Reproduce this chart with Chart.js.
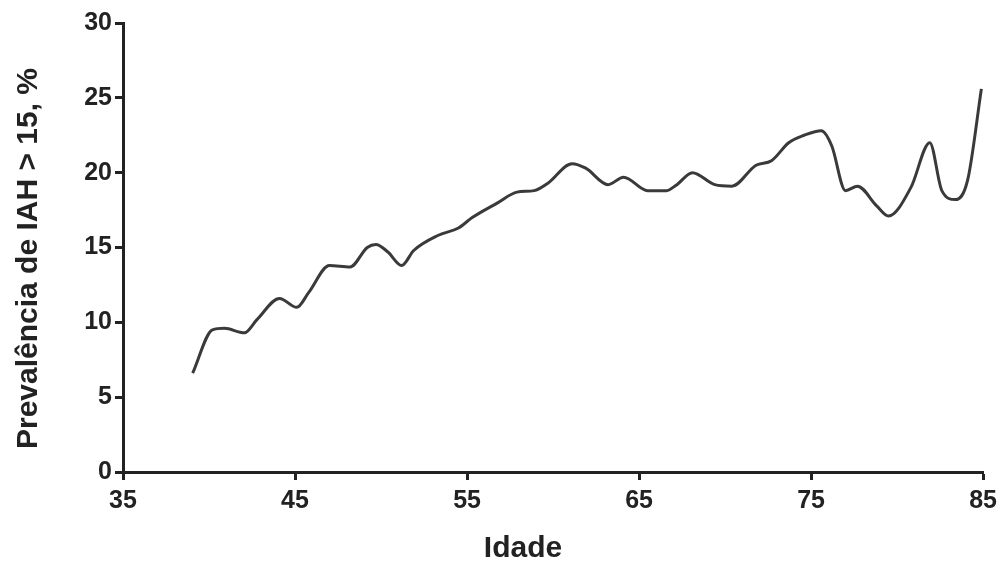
<!DOCTYPE html>
<html>
<head>
<meta charset="utf-8">
<script src="https://cdn.jsdelivr.net/npm/chart.js@4"></script>
<style>
  html, body { margin: 0; padding: 0; background: #fff; }
  #wrap { width: 1003px; height: 563px; }
</style>
</head>
<body>
<div id="wrap"><canvas id="myLine" width="1003" height="563"></canvas></div>
<script>
// age (x) and prevalence of AHI > 15 (y)
const ages = [39.05, 40.2, 40.9, 42.05, 42.8, 44.1, 45.1, 45.8, 47.0, 48.2, 49.2, 49.7, 50.4, 51.2, 51.9,
  53.3, 54.5, 55.3, 56.8, 57.9, 58.9, 59.7, 61.1, 61.9, 63.2, 64.1, 65.5, 66.6, 67.2, 68.1, 69.4, 70.4,
  71.8, 72.7, 73.7, 74.6, 75.6, 76.2, 77.0, 77.7, 78.8, 79.5, 80.8, 81.9, 82.6, 83.4, 84.1, 84.9];
const prevalence = [6.6, 9.5, 9.6, 9.3, 10.2, 11.6, 11.0, 12.0, 13.8, 13.7, 15.0, 15.2, 14.7, 13.8, 14.8,
  15.8, 16.3, 17.0, 18.0, 18.7, 18.8, 19.3, 20.6, 20.3, 19.2, 19.7, 18.8, 18.8, 19.2, 20.0, 19.2, 19.1,
  20.5, 20.8, 22.0, 22.5, 22.8, 21.8, 18.8, 19.1, 17.8, 17.1, 19.0, 22.0, 18.8, 18.2, 19.5, 25.6];
const xTicks = [35, 45, 55, 65, 75, 85];
const yTicks = [0, 5, 10, 15, 20, 25, 30];
const xTitle = 'Idade';
const yTitle = 'Prevalência de IAH > 15, %';

const ink = '#222222';
const tickFont = { family: 'Liberation Sans, Arial', size: 25, weight: 'bold' };
const titleCss = 'bold 30px "Liberation Sans", Arial';

const points = ages.map(function (a, i) { return { x: a, y: prevalence[i] }; });

// axis titles sit a little off-centre in the original, so draw them by hand
const axisTitles = {
  id: 'axisTitles',
  afterDraw: function (chart) {
    const ctx = chart.ctx;
    const area = chart.chartArea;
    ctx.save();
    ctx.fillStyle = ink;
    ctx.font = titleCss;
    ctx.textAlign = 'center';
    ctx.textBaseline = 'middle';
    ctx.fillText(xTitle, (area.left + area.right) / 2 - 30, 549);
    ctx.translate(29, (area.top + area.bottom) / 2 + 11);
    ctx.rotate(-Math.PI / 2);
    ctx.fillText(yTitle, 0, 0);
    ctx.restore();
  }
};

new Chart(document.getElementById('myLine'), {
  type: 'line',
  data: {
    datasets: [{
      data: points,
      borderColor: '#3a3a3a',
      borderWidth: 3,
      pointRadius: 0,
      fill: false,
      cubicInterpolationMode: 'monotone'
    }]
  },
  options: {
    responsive: false,
    animation: false,
    layout: { padding: { left: 0, top: 23, right: 18, bottom: 0 } },
    plugins: { legend: { display: false }, tooltip: { enabled: false } },
    scales: {
      x: {
        type: 'linear',
        min: 35,
        max: 85,
        afterBuildTicks: function (scale) {
          scale.ticks = xTicks.map(function (v) { return { value: v }; });
        },
        afterFit: function (scale) { scale.height = 91; },
        grid: { display: true, drawOnChartArea: false, drawTicks: true, tickLength: 8, tickWidth: 3, tickColor: ink },
        border: { display: true, color: ink, width: 3 },
        ticks: { color: ink, font: tickFont, padding: 6, maxRotation: 0 },
        title: { display: false }
      },
      y: {
        min: 0,
        max: 30,
        afterBuildTicks: function (scale) {
          scale.ticks = yTicks.map(function (v) { return { value: v }; });
        },
        afterFit: function (scale) { scale.width = 123; },
        grid: { display: true, drawOnChartArea: false, drawTicks: true, tickLength: 8, tickWidth: 3, tickColor: ink },
        border: { display: true, color: ink, width: 3 },
        ticks: { color: ink, font: tickFont, padding: 3 },
        title: { display: false }
      }
    }
  },
  plugins: [axisTitles]
});
</script>
</body>
</html>
